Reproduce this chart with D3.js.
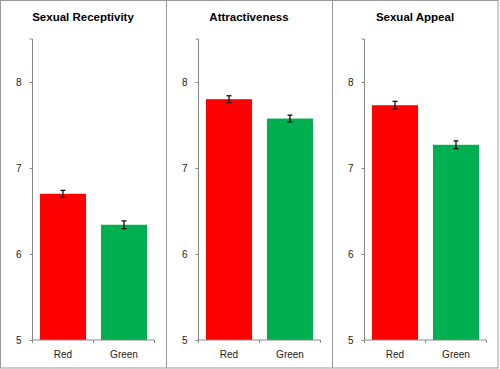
<!DOCTYPE html>
<html><head><meta charset="utf-8">
<script src="https://cdn.jsdelivr.net/npm/d3@7"></script>
<style>body{margin:0;background:#fff}svg{display:block}</style>
</head><body>
<script>
const titles = ["Sexual Receptivity", "Attractiveness", "Sexual Appeal"];
const categories = ["Red", "Green"];
const redValues = [6.70, 7.80, 7.73];
const greenValues = [6.34, 7.575, 7.27];
const redErrors = [0.04, 0.04, 0.045];
const greenErrors = [0.045, 0.04, 0.045];
const yTicks = [5, 6, 7, 8];
const colors = ["#ff0000", "#00b050"];

const W = 500, H = 369;
const svg = d3.select("body").append("svg").attr("width", W).attr("height", H);
const font = "'Liberation Sans', Arial, sans-serif";

const panelX = d3.scaleBand().domain(titles).range([0, 498]);
const y = d3.scaleLinear().domain([5, 8.5]).range([340, 39]);

titles.forEach((t, i) => {
  const x0 = panelX(t);
  const g = svg.append("g").attr("transform", `translate(${x0},0)`);
  const x = d3.scaleBand().domain(categories).range([32.5, 154.5]).paddingInner(0.245).paddingOuter(0.1225);
  const xb = d3.scaleBand().domain(categories).range([32.5, 154.5]);
  const vals = [redValues[i], greenValues[i]];
  const errs = [redErrors[i], greenErrors[i]];

  g.append("text").attr("x", 83).attr("y", 21).attr("text-anchor", "middle")
    .attr("font-family", font).attr("font-weight", "bold").attr("font-size", 11.5).text(t);

  g.selectAll("rect.bar").data(categories).enter().append("rect")
    .attr("x", d => x(d)).attr("width", x.bandwidth())
    .attr("y", (d, j) => y(vals[j])).attr("height", (d, j) => y(5) - y(vals[j]))
    .attr("fill", (d, j) => colors[j]);

  categories.forEach((c, j) => {
    const cx = x(c) + x.bandwidth() / 2;
    const eg = g.append("g").attr("stroke", "#000").attr("stroke-width", 1.2);
    eg.append("line").attr("x1", cx).attr("x2", cx).attr("y1", y(vals[j] + errs[j])).attr("y2", y(vals[j] - errs[j]));
    eg.append("line").attr("x1", cx - 2.5).attr("x2", cx + 2.5).attr("y1", y(vals[j] + errs[j])).attr("y2", y(vals[j] + errs[j]));
    eg.append("line").attr("x1", cx - 2.5).attr("x2", cx + 2.5).attr("y1", y(vals[j] - errs[j])).attr("y2", y(vals[j] - errs[j]));
  });

  const ya = g.append("g").attr("transform", "translate(32.5,0)")
    .call(d3.axisLeft(y).tickValues(yTicks).tickSize(3).tickPadding(8).tickFormat(d3.format("d")));
  ya.select(".domain").attr("stroke", "#888").attr("d", `M-3,${y(8.5)}H0V${y(5)}`);
  ya.selectAll(".tick line").attr("stroke", "#888");
  ya.selectAll("text").attr("font-family", font).attr("font-size", 10).attr("fill", "#222");

  const xa = g.append("g").attr("transform", `translate(0,${y(5)})`)
    .call(d3.axisBottom(xb).tickSize(0).tickPadding(11));
  xa.select(".domain").attr("stroke", "#888").attr("d", `M32.5,3V0H154.5V3`);
  xa.selectAll("text").attr("font-family", font).attr("font-size", 10).attr("fill", "#222");
  xa.append("line").attr("x1", xb("Green")).attr("x2", xb("Green")).attr("y1", 0).attr("y2", 3).attr("stroke", "#888");
});

// panel borders
svg.append("rect").attr("x", 0.5).attr("y", 0.5).attr("width", 497.5).attr("height", 367.5)
  .attr("fill", "none").attr("stroke", "#999");
titles.slice(1).forEach(t => {
  svg.append("line").attr("x1", panelX(t) + 0.5).attr("x2", panelX(t) + 0.5).attr("y1", 0).attr("y2", 368)
    .attr("stroke", "#999");
});
</script>
</body></html>
